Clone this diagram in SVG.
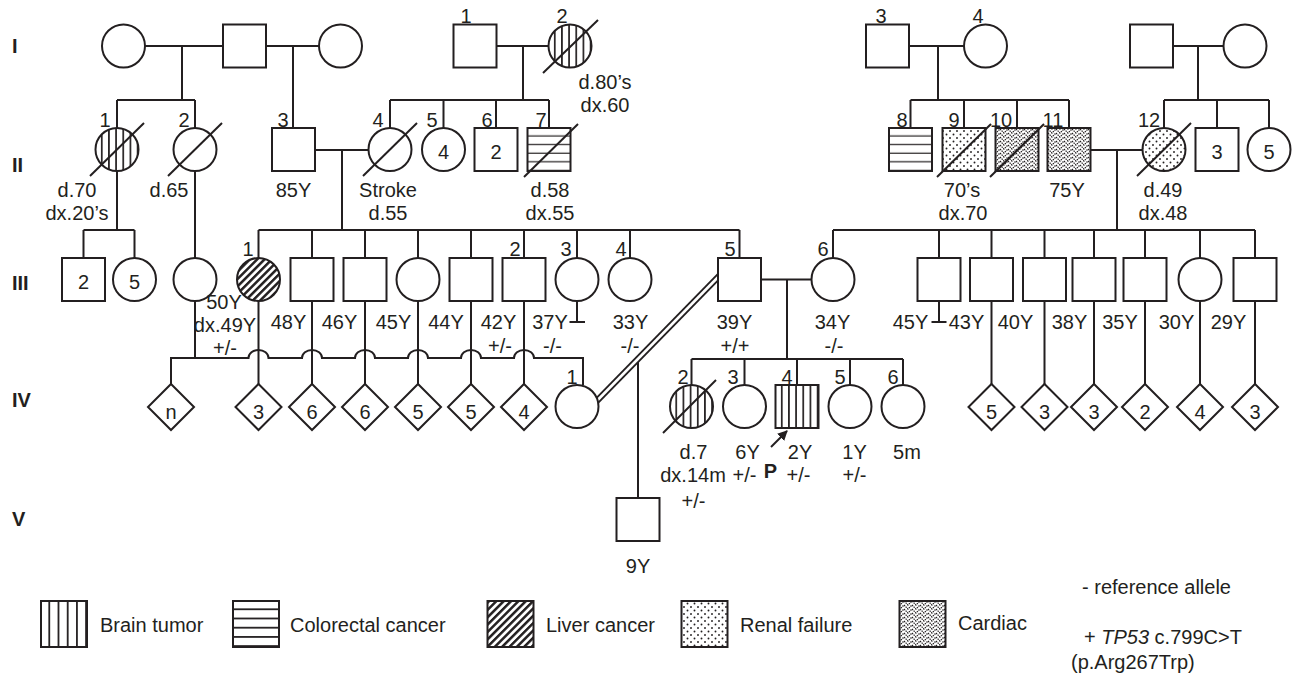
<svg xmlns="http://www.w3.org/2000/svg" width="1292" height="674" viewBox="0 0 1292 674">
<style>
.s{fill:#fff;stroke:#231f20;stroke-width:2}
.l{fill:none;stroke:#231f20;stroke-width:2}
.d{stroke:#231f20;stroke-width:2}
text{font-family:"Liberation Sans",Arial,Helvetica,sans-serif;font-size:20px;fill:#231f20}
.m{text-anchor:middle}
.g{font-weight:bold}
</style>
<defs>
<pattern id="vert" patternUnits="objectBoundingBox" width="0.1667" height="1"><rect x="0" y="0" width="20" height="60" fill="#fff"/><rect x="5.4" y="0" width="1.7" height="60" fill="#231f20"/></pattern>
<pattern id="vertL" patternUnits="objectBoundingBox" width="0.2" height="1"><rect x="0" y="0" width="20" height="60" fill="#fff"/><rect x="7.4" y="0" width="1.8" height="60" fill="#231f20"/></pattern>
<pattern id="horz" patternUnits="objectBoundingBox" width="1" height="0.2"><rect x="0" y="0" width="60" height="20" fill="#fff"/><rect x="0" y="7.4" width="60" height="1.8" fill="#231f20"/></pattern>
<pattern id="liver" patternUnits="userSpaceOnUse" width="5.2" height="10" patternTransform="rotate(45)"><rect width="5.2" height="10" fill="#fff"/><rect x="0" y="0" width="2.5" height="10" fill="#231f20"/></pattern>
<pattern id="dots" patternUnits="userSpaceOnUse" width="7" height="7"><rect width="7" height="7" fill="#fff"/><circle cx="1.5" cy="1.5" r="0.95" fill="#231f20"/><circle cx="5" cy="5" r="0.95" fill="#231f20"/></pattern>
<pattern id="card" patternUnits="userSpaceOnUse" width="8" height="8"><rect width="8" height="8" fill="#fff"/><path d="M0,1 L4,5 L8,1 M0,5 L4,9 L8,5 M0,-3 L4,1 L8,-3" fill="none" stroke="#231f20" stroke-width="1.3" stroke-dasharray="1.4 0.9"/></pattern>
<marker id="ah" viewBox="0 0 10 10" refX="9" refY="5" markerWidth="10" markerHeight="10" markerUnits="userSpaceOnUse" orient="auto"><path d="M0,0 L10,5 L0,10 z" fill="#231f20"/></marker>
</defs>
<rect width="1292" height="674" fill="#fff"/>

<g id="generation-labels" class="g">
<text x="12" y="53">I</text>
<text x="12" y="172">II</text>
<text x="12" y="290">III</text>
<text x="12" y="407">IV</text>
<text x="12" y="526">V</text>
</g>

<g id="connectors">
<path class="l" d="M145,46 H223 M266,46 H319 M182,46 V100 M117,100 H195 M117,100 V128 M195,100 V128 M293,46 V128"/>
<path class="l" d="M496.5,46 H548.5 M523,46 V100 M390,100 H549 M390,100 V128 M443.5,100 V128 M496,100 V128 M549,100 V128"/>
<path class="l" d="M909,46 H964 M938,46 V100 M910.5,100 H1069 M910.5,100 V128 M964,100 V128 M1017,100 V128 M1069,100 V128"/>
<path class="l" d="M1173,46 H1223.5 M1198,46 V100 M1164,100 H1269 M1164,100 V128 M1217,100 V128 M1269,100 V128"/>
<path class="l" d="M117,171 V230 M83.5,230 H134.5 M83.5,230 V258 M134.5,230 V258 M195,171 V258"/>
<path class="l" d="M315,150 H368.5 M342,150 V230 M258.5,230 H739.5 M258.5,230 V258 M312,230 V258 M365,230 V258 M418,230 V258 M471,230 V258 M524,230 V258 M577,230 V258 M630,230 V258 M739.5,230 V258"/>
<path class="l" d="M1090.5,150 H1142.5 M1117,150 V230 M833,230 H1255 M833,230 V258 M939,230 V258 M991.5,230 V258 M1044.5,230 V258 M1094,230 V258 M1145,230 V258 M1200,230 V258 M1255,230 V258"/>
<path class="l" d="M761,279.5 H811.5 M787,279.5 V359 M691.5,359 H903 M691.5,359 V385 M744.5,359 V385 M797,359 V385 M850,359 V385 M903,359 V385"/>
<path class="l" d="M577,301 V322 M569.5,322 H585 M939,301 V322 M931.5,322 H946.5"/>
<path class="l" d="M258.5,301 V384 M312,301 V384 M365,301 V384 M418,301 V384 M471,301 V384 M524,301 V384"/>
<path class="l" d="M991.5,301 V384 M1044.5,301 V384 M1094,301 V384 M1145,301 V384 M1200,301 V384 M1255,301 V384"/>
<path class="l" d="M195,301 V358 M171,384 V358 H248.5 A10,8 0 0 1 268.5,358 H302 A10,8 0 0 1 322,358 H355 A10,8 0 0 1 375,358 H408 A10,8 0 0 1 428,358 H461 A10,8 0 0 1 481,358 H514 A10,8 0 0 1 534,358 H583 V385"/>
<path d="M725,270 L585,413" stroke="#231f20" stroke-width="6.4" fill="none"/>
<path d="M725,270 L585,413" stroke="#fff" stroke-width="2.6" fill="none"/>
<path class="l" d="M638,362 V498"/>
<line class="d" x1="771" y1="447" x2="787" y2="431" marker-end="url(#ah)"/>
</g>

<g id="I-a"><circle class="s" cx="123.5" cy="46" r="21.5"/></g>
<g id="I-b"><rect class="s" x="223" y="24.5" width="43" height="43"/></g>
<g id="I-c"><circle class="s" cx="340.5" cy="46" r="21.5"/></g>
<g id="I-1"><rect class="s" x="453.5" y="24.5" width="43" height="43"/><text class="m" x="466" y="23">1</text></g>
<g id="I-2"><circle class="s" cx="570" cy="46" r="21.5" style="fill:url(#vert)"/><line class="d" x1="543" y1="73" x2="598" y2="20"/><text class="m" x="562" y="23">2</text><text class="m" x="605" y="89">d.80’s</text><text class="m" x="605" y="112">dx.60</text></g>
<g id="I-3"><rect class="s" x="866" y="24.5" width="43" height="43"/><text class="m" x="881" y="23">3</text></g>
<g id="I-4"><circle class="s" cx="985.5" cy="46" r="21.5"/><text class="m" x="978" y="23">4</text></g>
<g id="I-d"><rect class="s" x="1130" y="24.5" width="43" height="43"/></g>
<g id="I-e"><circle class="s" cx="1245" cy="46" r="21.5"/></g>

<g id="II-1"><circle class="s" cx="117" cy="149.5" r="21.5" style="fill:url(#vert)"/><line class="d" x1="90" y1="176" x2="144" y2="123"/><text class="m" x="105" y="127">1</text><text class="m" x="77" y="197">d.70</text><text class="m" x="77" y="220">dx.20’s</text></g>
<g id="II-2"><circle class="s" cx="195" cy="149.5" r="21.5"/><line class="d" x1="168" y1="176" x2="222" y2="123"/><text class="m" x="184" y="127">2</text><text class="m" x="169" y="197">d.65</text></g>
<g id="II-3"><rect class="s" x="272" y="128" width="43" height="43"/><text class="m" x="283" y="127">3</text><text class="m" x="293.5" y="197">85Y</text></g>
<g id="II-4"><circle class="s" cx="390" cy="149.5" r="21.5"/><line class="d" x1="363" y1="176" x2="417" y2="123"/><text class="m" x="378" y="127">4</text><text class="m" x="388" y="197">Stroke</text><text class="m" x="388" y="220">d.55</text></g>
<g id="II-5"><circle class="s" cx="443.5" cy="149.5" r="21.5"/><text class="m" x="432" y="127">5</text><text class="m" x="443.5" y="159">4</text></g>
<g id="II-6"><rect class="s" x="474.5" y="128" width="43" height="43"/><text class="m" x="487" y="127">6</text><text class="m" x="496" y="159">2</text></g>
<g id="II-7"><rect class="s" x="527.5" y="128" width="43" height="43" style="fill:url(#horz)"/><line class="d" x1="524" y1="177" x2="578" y2="124"/><text class="m" x="541" y="127">7</text><text class="m" x="550" y="197">d.58</text><text class="m" x="550" y="220">dx.55</text></g>
<g id="II-8"><rect class="s" x="889" y="128" width="43" height="43" style="fill:url(#horz)"/><text class="m" x="902" y="127">8</text></g>
<g id="II-9"><rect class="s" x="942.5" y="128" width="43" height="43" style="fill:url(#dots)"/><line class="d" x1="937" y1="177" x2="991" y2="124"/><text class="m" x="954" y="127">9</text><text class="m" x="962" y="197">70’s</text><text class="m" x="963" y="220">dx.70</text></g>
<g id="II-10"><rect class="s" x="995.5" y="128" width="43" height="43" style="fill:url(#card)"/><line class="d" x1="990" y1="177" x2="1044" y2="124"/><text class="m" x="1001" y="127">10</text></g>
<g id="II-11"><rect class="s" x="1047.5" y="128" width="43" height="43" style="fill:url(#card)"/><text class="m" x="1053" y="127">11</text><text class="m" x="1067" y="197">75Y</text></g>
<g id="II-12"><circle class="s" cx="1164" cy="149.5" r="21.5" style="fill:url(#dots)"/><line class="d" x1="1137" y1="176" x2="1191" y2="123"/><text class="m" x="1149" y="127">12</text><text class="m" x="1163" y="197">d.49</text><text class="m" x="1163" y="220">dx.48</text></g>
<g id="II-f"><rect class="s" x="1195.5" y="128" width="43" height="43"/><text class="m" x="1217" y="159">3</text></g>
<g id="II-g"><circle class="s" cx="1269" cy="149.5" r="21.5"/><text class="m" x="1269" y="159">5</text></g>

<g id="III-a"><rect class="s" x="62" y="258" width="43" height="43"/><text class="m" x="83.5" y="289">2</text></g>
<g id="III-b"><circle class="s" cx="134.5" cy="279.5" r="21.5"/><text class="m" x="134.5" y="289">5</text></g>
<g id="III-c"><circle class="s" cx="195" cy="279.5" r="21.5"/></g>
<g id="III-1"><circle class="s" cx="258.5" cy="279.5" r="21.5" style="fill:url(#liver)"/><text class="m" x="248" y="256">1</text><text class="m" x="224" y="309">50Y</text><text class="m" x="225" y="332">dx.49Y</text><text class="m" x="225" y="355">+/-</text></g>
<g id="III-e"><rect class="s" x="290.5" y="258" width="43" height="43"/><text class="m" x="288.5" y="329">48Y</text></g>
<g id="III-f"><rect class="s" x="343.5" y="258" width="43" height="43"/><text class="m" x="339.5" y="329">46Y</text></g>
<g id="III-g"><circle class="s" cx="418" cy="279.5" r="21.5"/><text class="m" x="393.5" y="329">45Y</text></g>
<g id="III-h"><rect class="s" x="449.5" y="258" width="43" height="43"/><text class="m" x="446" y="329">44Y</text></g>
<g id="III-2"><rect class="s" x="502.5" y="258" width="43" height="43"/><text class="m" x="515" y="256">2</text><text class="m" x="498.5" y="329">42Y</text><text class="m" x="500" y="353">+/-</text></g>
<g id="III-3"><circle class="s" cx="577" cy="279.5" r="21.5"/><text class="m" x="566" y="256">3</text><text class="m" x="550" y="329">37Y</text><text class="m" x="552.5" y="353">-/-</text></g>
<g id="III-4"><circle class="s" cx="630" cy="279.5" r="21.5"/><text class="m" x="621" y="256">4</text><text class="m" x="630.5" y="329">33Y</text><text class="m" x="630" y="353">-/-</text></g>
<g id="III-5"><rect class="s" x="718" y="258" width="43" height="43"/><text class="m" x="730" y="256">5</text><text class="m" x="734.5" y="329">39Y</text><text class="m" x="735" y="353">+/+</text></g>
<g id="III-6"><circle class="s" cx="833" cy="279.5" r="21.5"/><text class="m" x="823" y="256">6</text><text class="m" x="832.5" y="329">34Y</text><text class="m" x="834" y="353">-/-</text></g>
<g id="III-r1"><rect class="s" x="917.5" y="258" width="43" height="43"/><text class="m" x="910.5" y="329">45Y</text></g>
<g id="III-r2"><rect class="s" x="970" y="258" width="43" height="43"/><text class="m" x="966.5" y="329">43Y</text></g>
<g id="III-r3"><rect class="s" x="1023" y="258" width="43" height="43"/><text class="m" x="1015.5" y="329">40Y</text></g>
<g id="III-r4"><rect class="s" x="1072.5" y="258" width="43" height="43"/><text class="m" x="1069.5" y="329">38Y</text></g>
<g id="III-r5"><rect class="s" x="1123.5" y="258" width="43" height="43"/><text class="m" x="1120" y="329">35Y</text></g>
<g id="III-r6"><circle class="s" cx="1200" cy="279.5" r="21.5"/><text class="m" x="1176.5" y="329">30Y</text></g>
<g id="III-r7"><rect class="s" x="1233.5" y="258" width="43" height="43"/><text class="m" x="1228.5" y="329">29Y</text></g>

<g id="IV-n"><polygon class="s" points="171,384 194,407 171,430 148,407"/><text class="m" x="171" y="419">n</text></g>
<g id="IV-a"><polygon class="s" points="258.5,384 281.5,407 258.5,430 235.5,407"/><text class="m" x="258.5" y="419">3</text></g>
<g id="IV-b"><polygon class="s" points="312,384 335,407 312,430 289,407"/><text class="m" x="312" y="419">6</text></g>
<g id="IV-c"><polygon class="s" points="365,384 388,407 365,430 342,407"/><text class="m" x="365" y="419">6</text></g>
<g id="IV-d"><polygon class="s" points="418,384 441,407 418,430 395,407"/><text class="m" x="418" y="419">5</text></g>
<g id="IV-e"><polygon class="s" points="471,384 494,407 471,430 448,407"/><text class="m" x="471" y="419">5</text></g>
<g id="IV-f"><polygon class="s" points="524,384 547,407 524,430 501,407"/><text class="m" x="524" y="419">4</text></g>
<g id="IV-1"><circle class="s" cx="577" cy="406.5" r="21.5"/><text class="m" x="572" y="384">1</text></g>
<g id="IV-2"><circle class="s" cx="691.5" cy="406.5" r="21.5" style="fill:url(#vert)"/><line class="d" x1="663" y1="433" x2="716" y2="380"/><text class="m" x="683" y="384">2</text><text class="m" x="693.5" y="459">d.7</text><text class="m" x="693" y="482">dx.14m</text><text class="m" x="693.5" y="508">+/-</text></g>
<g id="IV-3"><circle class="s" cx="744.5" cy="406.5" r="21.5"/><text class="m" x="733" y="384">3</text><text class="m" x="747.5" y="459">6Y</text><text class="m" x="744.5" y="482">+/-</text></g>
<g id="IV-4"><rect class="s" x="775.5" y="385" width="43" height="43" style="fill:url(#vert)"/><text class="m" x="787" y="384">4</text><text class="m" x="800" y="459">2Y</text><text class="m" x="798.5" y="482">+/-</text><text class="m g" x="770.5" y="478">P</text></g>
<g id="IV-5"><circle class="s" cx="850" cy="406.5" r="21.5"/><text class="m" x="840" y="384">5</text><text class="m" x="854.5" y="459">1Y</text><text class="m" x="854.5" y="482">+/-</text></g>
<g id="IV-6"><circle class="s" cx="903" cy="406.5" r="21.5"/><text class="m" x="893" y="384">6</text><text class="m" x="907" y="459">5m</text></g>
<g id="IV-r1"><polygon class="s" points="991.5,384 1014.5,407 991.5,430 968.5,407"/><text class="m" x="991.5" y="419">5</text></g>
<g id="IV-r2"><polygon class="s" points="1044.5,384 1067.5,407 1044.5,430 1021.5,407"/><text class="m" x="1044.5" y="419">3</text></g>
<g id="IV-r3"><polygon class="s" points="1094,384 1117,407 1094,430 1071,407"/><text class="m" x="1094" y="419">3</text></g>
<g id="IV-r4"><polygon class="s" points="1145,384 1168,407 1145,430 1122,407"/><text class="m" x="1145" y="419">2</text></g>
<g id="IV-r5"><polygon class="s" points="1200,384 1223,407 1200,430 1177,407"/><text class="m" x="1200" y="419">4</text></g>
<g id="IV-r6"><polygon class="s" points="1255,384 1278,407 1255,430 1232,407"/><text class="m" x="1255" y="419">3</text></g>

<g id="V-1"><rect class="s" x="616.5" y="498" width="43" height="43"/><text class="m" x="638" y="573">9Y</text></g>

<g id="legend">
<rect class="s" x="41" y="601" width="46" height="46" style="fill:url(#vertL)"/><text x="100" y="632">Brain tumor</text>
<rect class="s" x="233" y="601" width="46" height="46" style="fill:url(#horz)"/><text x="290" y="632">Colorectal cancer</text>
<rect class="s" x="487.5" y="601" width="46" height="46" style="fill:url(#liver)"/><text x="546" y="632">Liver cancer</text>
<rect class="s" x="681.5" y="601" width="46" height="46" style="fill:url(#dots)"/><text x="740" y="632">Renal failure</text>
<rect class="s" x="899.5" y="601" width="46" height="46" style="fill:url(#card)"/><text x="958" y="630">Cardiac</text>
<text x="1082" y="594">- reference allele</text>
<text x="1084" y="644">+ <tspan font-style="italic">TP53</tspan> c.799C&gt;T</text>
<text x="1071" y="669">(p.Arg267Trp)</text>
</g>
</svg>
